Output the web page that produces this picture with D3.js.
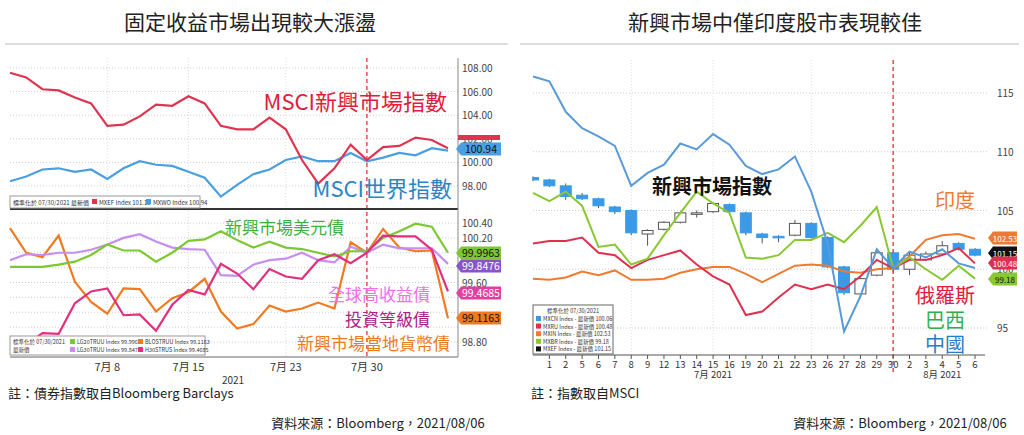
<!DOCTYPE html>
<html><head><meta charset="utf-8">
<script src="https://cdn.jsdelivr.net/npm/d3@7"></script>
<style>body{margin:0;background:#fff;font-family:"Noto Sans CJK TC","Noto Sans",sans-serif}</style>
</head><body>
<svg id="c" width="1024" height="435"></svg>
<script>
// left panel: trading days Jun 30 .. Aug 6
var leftDays = ["6/30","7/1","7/2","7/5","7/6","7/7","7/8","7/9","7/12","7/13","7/14","7/15","7/16","7/19","7/20","7/21","7/22","7/23","7/26","7/27","7/28","7/29","7/30","8/2","8/3","8/4","8/5","8/6"];
var mxef = [107.6,107.2,106.2,106.1,105.5,105.0,103.1,103.2,103.9,104.9,104.8,105.6,105.0,103.1,102.8,102.8,103.8,102.8,100.2,98.2,99.5,101.5,100.2,101.3,101.4,102.1,101.9,101.2];
var mxwo = [98.4,98.8,99.4,99.5,99.2,99.4,98.6,99.5,100.1,99.8,99.7,99.2,98.7,97.1,98.1,99.0,99.4,100.2,100.5,100.1,100.1,100.8,100.1,100.4,100.8,100.6,101.2,101.0];
var embUsd = [99.81,99.81,99.81,99.84,99.88,99.97,100.11,100.03,100.03,99.88,100.0,100.16,100.18,100.29,100.17,100.07,100.15,100.07,100.05,100.0,99.95,100.02,100.02,100.2,100.29,100.39,100.35,100.0];
var invGrade = [99.9,99.98,99.97,100.0,100.0,100.04,100.11,100.2,100.25,100.15,100.07,100.05,100.04,99.7,99.69,99.84,99.9,99.92,100.0,99.9,99.87,100.08,100.0,100.11,100.06,100.06,100.06,99.85];
var highYield = [98.7,98.76,98.92,98.91,99.32,99.48,99.52,99.16,99.17,98.95,99.3,99.5,99.44,99.85,99.72,99.51,99.78,99.68,99.65,99.9,99.98,99.86,100.0,100.23,100.22,100.22,100.04,99.48];
var emLocal = [100.33,100.0,99.94,100.23,99.61,99.34,99.18,99.52,99.51,99.21,99.39,99.47,99.65,99.21,98.98,99.04,99.29,99.21,99.25,99.33,99.25,100.14,100.0,100.32,100.07,100.02,100.03,99.12];
var topTicks = [98,100,102,104,106,108];
var botTicks = [98.8,99.0,99.2,99.4,99.6,99.8,100.0,100.2,100.4];
var botTickLabels = [98.8,99.6,100.2,100.4];
var leftDateTicks = [{d:"7/8",t:"7月 8"},{d:"7/15",t:"7月 15"},{d:"7/23",t:"7月 23"},{d:"7/30",t:"7月 30"}];

// right panel
var rightDays = ["6/30","7/1","7/2","7/5","7/6","7/7","7/8","7/9","7/12","7/13","7/14","7/15","7/16","7/19","7/20","7/21","7/22","7/23","7/26","7/27","7/28","7/29","7/30","8/2","8/3","8/4","8/5","8/6"];
var rightTickText = ["","1","2","5","6","7","8","9","12","13","14","15","16","19","20","21","22","23","26","27","28","29","30","2","3","4","5","6"];
var china = [116.4,116.0,113.4,112.0,111.3,110.5,107.1,108.2,108.9,110.7,110.2,111.5,110.6,108.8,108.1,108.5,109.6,106.6,102.2,94.7,97.7,101.7,100.1,101.5,101.0,101.7,100.5,100.1];
var brazil = [106.5,105.8,106.6,105.4,101.9,102.1,100.4,100.9,102.9,104.8,106.6,105.6,104.8,101.0,100.9,101.2,102.5,102.5,103.1,102.3,103.7,105.3,100.1,101.0,100.0,99.1,100.3,99.2];
var russia = [102.2,102.4,102.4,102.7,101.4,101.2,100.1,100.8,101.2,101.6,100.4,99.4,98.7,96.1,96.4,97.6,98.7,98.3,98.7,98.3,99.4,100.8,100.1,100.8,100.8,101.2,101.8,100.5];
var india = [99.2,99.1,99.3,99.8,99.5,99.9,99.1,99.1,99.2,99.7,100.0,100.2,100.2,99.6,98.9,99.6,100.3,100.4,100.3,99.8,99.7,100.0,100.1,101.1,102.5,102.9,103.0,102.6];
var emOpen  = [107.8,107.6,107.1,106.3,106.0,105.3,105.0,103.0,103.4,104.0,104.7,104.9,105.5,104.8,103.0,102.8,102.9,103.9,102.7,100.2,97.9,99.5,101.4,100.0,100.8,101.3,102.2,101.7];
var emClose = [107.6,107.1,106.2,106.0,105.4,104.9,103.1,103.3,104.0,104.8,104.8,105.6,104.9,103.1,102.7,102.7,103.9,102.7,100.2,98.0,99.2,101.4,100.0,101.2,101.3,102.0,101.7,101.2];
var emHigh  = [107.9,107.7,107.3,106.5,106.1,105.4,105.1,103.4,104.1,104.9,105.0,105.7,105.6,104.9,103.1,102.9,104.2,104.0,102.8,100.3,99.3,101.7,101.5,101.5,101.5,102.4,102.3,101.8];
var emLow   = [107.5,107.0,105.9,105.9,105.2,104.7,102.9,102.0,103.3,103.9,104.4,104.8,104.8,102.9,102.2,102.3,102.8,102.6,100.1,97.8,97.7,99.4,99.8,99.5,100.7,101.2,101.6,101.1];
var rightTicks = [95,100,105,110,115];

var svg = d3.select("#c");
var FONT = '"Noto Sans CJK TC","Noto Sans",sans-serif';

function txt(x, y, s, size, color, anchor, weight) {
  return svg.append("text").attr("x", x).attr("y", y).text(s)
    .attr("font-size", size).attr("fill", color).attr("font-family", FONT)
    .attr("text-anchor", anchor || "start").attr("font-weight", weight || "normal");
}
function badge(x, y, s, color, fg, w, fs) {
  w = w || 40; fs = fs || 10.5;
  svg.append("path").attr("d", "M" + x + "," + y + " l5,-6.5 h" + w + " v13 h-" + w + " z").attr("fill", color);
  txt(x + 5 + w / 2, y + 3.5, s, fs, fg || "#111", "middle");
}
function grid(x0, x1, ys) {
  ys.forEach(function (y) {
    svg.append("line").attr("x1", x0).attr("x2", x1).attr("y1", y).attr("y2", y)
      .attr("stroke", "#ccc").attr("stroke-dasharray", "1,2");
  });
}
function line(data, x, y, color, w) {
  svg.append("path").datum(data)
    .attr("d", d3.line().x(function (d, i) { return x(i); }).y(function (d) { return y(d); }))
    .attr("fill", "none").attr("stroke", color).attr("stroke-width", w || 2.2);
}

// ---------- titles ----------
txt(250, 30, "固定收益市場出現較大漲盪", 21, "#222", "middle");
txt(775, 30, "新興市場中僅印度股市表現較佳", 21, "#222", "middle");
svg.append("line").attr("x1", 5).attr("x2", 508).attr("y1", 44).attr("y2", 44).attr("stroke", "#bbb");
svg.append("line").attr("x1", 520).attr("x2", 1019).attr("y1", 44).attr("y2", 44).attr("stroke", "#bbb");

// ---------- left ----------
var xL = d3.scaleLinear().domain([0, leftDays.length - 1]).range([10, 448]);
var yT = d3.scaleLinear().domain([98, 108]).range([186, 68]);
var yB = d3.scaleLinear().domain([98.8, 100.4]).range([342, 223]);
grid(10, 458, topTicks.map(yT));
grid(10, 458, botTicks.map(yB));
leftDateTicks.forEach(function (t) {
  var xx = xL(leftDays.indexOf(t.d)), red = t.d == "7/30";
  svg.append("line").attr("x1", xx).attr("x2", xx).attr("y1", 58).attr("y2", 356)
    .attr("stroke", red ? "#d33" : "#ddd")
    .attr("stroke-dasharray", red ? "4,3" : "1,2").attr("stroke-width", red ? 1.3 : 1);
  txt(xx, 371, t.t, 11, "#333", "middle");
});
svg.append("line").attr("x1", 10).attr("x2", 458).attr("y1", 209).attr("y2", 209).attr("stroke", "#333").attr("stroke-width", 2);
svg.append("line").attr("x1", 10).attr("x2", 458).attr("y1", 357).attr("y2", 357).attr("stroke", "#666");
svg.append("line").attr("x1", 458).attr("x2", 458).attr("y1", 58).attr("y2", 357).attr("stroke", "#888");
txt(233, 384, "2021", 10, "#333", "middle");
topTicks.forEach(function (v) { txt(462, yT(v) + 4, v.toFixed(2), 10, "#444"); });
botTickLabels.forEach(function (v) { txt(462, yB(v) + 4, v.toFixed(2), 10, "#444"); });

line(mxwo, xL, yT, "#4a9fe0");
line(mxef, xL, yT, "#e0334f");
line(emLocal, xL, yB, "#f07a20");
line(invGrade, xL, yB, "#c58ef0");
line(embUsd, xL, yB, "#7cc830");
line(highYield, xL, yB, "#e0307e");

svg.append("rect").attr("x", 458).attr("y", 135).attr("width", 42).attr("height", 5).attr("fill", "#e0334f");
badge(456, 149, "100.94", "#4a9fe0");
badge(456, 253, "99.9963", "#7cc830");
badge(456, 266, "99.8476", "#8855c8", "#fff");
badge(456, 293, "99.4685", "#e040a0", "#fff");
badge(456, 318, "99.1163", "#f07a20");

// legends
svg.append("rect").attr("x", 10).attr("y", 196).attr("width", 190).attr("height", 12).attr("fill", "#fff").attr("stroke", "#999");
txt(13, 205, "標準化於 07/30/2021 最新價", 6, "#333");
[["MXEF Index 101.15", "#e0334f", 92], ["MXWO Index 100.94", "#4a9fe0", 146]].forEach(function (l) {
  svg.append("rect").attr("x", l[2]).attr("y", 199).attr("width", 5).attr("height", 5).attr("fill", l[1]);
  txt(l[2] + 7, 205, l[0], 6, "#333");
});
svg.append("rect").attr("x", 10).attr("y", 336).attr("width", 195).attr("height", 19).attr("fill", "#fff").attr("stroke", "#999");
txt(13, 344, "標準化於 07/30/2021", 5.5, "#333");
txt(13, 352, "最新價", 5.5, "#333");
[["LG20TRUU Index 99.9963", "#7cc830", 70, 344], ["BLOSTRUU Index 99.1163", "#f07a20", 138, 344],
 ["LG30TRUU Index 99.8476", "#c58ef0", 70, 352], ["H30STRUS Index 99.4685", "#e0307e", 138, 352]].forEach(function (l) {
  svg.append("rect").attr("x", l[2]).attr("y", l[3] - 5).attr("width", 5).attr("height", 5).attr("fill", l[1]);
  txt(l[2] + 7, l[3], l[0], 5.5, "#333");
});

txt(447, 110, "MSCI新興市場指數", 22, "#e0203a", "end");
txt(452, 197, "MSCI世界指數", 22, "#2a85c8", "end");
txt(225, 234, "新興市場美元債", 17, "#3cb040");
txt(430, 301, "全球高收益債", 17, "#f070e8", "end");
txt(430, 326, "投資等級債", 17, "#b0208a", "end");
txt(450, 350, "新興市場當地貨幣債", 17, "#f07a20", "end");
txt(8, 398, "註：債券指數取自Bloomberg Barclays", 13, "#222");
txt(378, 428, "資料來源：Bloomberg，2021/08/06", 13, "#222", "middle");

// ---------- right ----------
var xR = d3.scaleLinear().domain([0, rightDays.length - 1]).range([533, 975]);
var yR = d3.scaleLinear().domain([95, 115]).range([328, 93]);
grid(533, 988, rightTicks.map(yR));
rightTicks.forEach(function (v) { txt(997, yR(v) + 4, v, 10, "#444"); });
[6, 11, 17].forEach(function (i) {
  svg.append("line").attr("x1", xR(i)).attr("x2", xR(i)).attr("y1", 60).attr("y2", 355).attr("stroke", "#ddd").attr("stroke-dasharray", "1,2");
});
var i30 = rightDays.indexOf("7/30");
svg.append("line").attr("x1", xR(i30)).attr("x2", xR(i30)).attr("y1", 60).attr("y2", 375)
  .attr("stroke", "#d33").attr("stroke-dasharray", "4,3").attr("stroke-width", 1.3);
svg.append("line").attr("x1", 533).attr("x2", 985).attr("y1", 355).attr("y2", 355).attr("stroke", "#555");
rightTickText.forEach(function (s, i) {
  if (!s) return;
  svg.append("line").attr("x1", xR(i)).attr("x2", xR(i)).attr("y1", 355).attr("y2", 359).attr("stroke", "#555");
  txt(xR(i), 368, s, 9.5, "#333", "middle");
});
txt(xR(11), 378, "7月 2021", 9.5, "#333", "middle");
txt(xR(25), 378, "8月 2021", 9.5, "#333", "middle");

// candles
var cw = 11;
emOpen.forEach(function (o, i) {
  var c = emClose[i], up = c >= o, xx = xR(i);
  svg.append("line").attr("x1", xx).attr("x2", xx).attr("y1", yR(emHigh[i])).attr("y2", yR(emLow[i])).attr("stroke", "#555");
  svg.append("rect").attr("x", i == 0 ? xx : xx - cw / 2).attr("width", i == 0 ? cw / 2 : cw)
    .attr("y", yR(Math.max(o, c))).attr("height", Math.max(1.5, Math.abs(yR(o) - yR(c))))
    .attr("fill", up ? "#fff" : "#3a9ae8").attr("stroke", up ? "#555" : "#3a9ae8");
});
line(india, xR, yR, "#f07a30", 2);
line(russia, xR, yR, "#e0304f", 2);
line(brazil, xR, yR, "#88c830", 2);
line(china, xR, yR, "#5a9ad8", 2);

badge(988, 238, "102.53", "#f07a30", "#fff", 24, 8);
badge(988, 253, "101.15", "#111", "#fff", 24, 8);
badge(988, 263, "100.48", "#e0304f", "#fff", 24, 8);
badge(988, 279, "99.18", "#88c830", "#111", 24, 8);

svg.append("rect").attr("x", 533).attr("y", 305).attr("width", 80).attr("height", 49).attr("fill", "#fff").attr("stroke", "#666");
txt(573, 313, "標準化於 07/30/2021", 5.5, "#333", "middle");
[["MXCN Index - 最新價 100.06", "#3a9ae8"], ["MXRU Index - 最新價 100.48", "#e0304f"], ["MXIN Index - 最新價 102.53", "#f07a30"],
 ["MXBR Index - 最新價 99.18", "#88c830"], ["MXEF Index - 最新價 101.15", "#111"]].forEach(function (l, i) {
  svg.append("rect").attr("x", 536).attr("y", 316 + i * 7.6).attr("width", 5).attr("height", 5).attr("fill", l[1]);
  txt(543, 321 + i * 7.6, l[0], 5.5, "#333");
});

txt(712, 194, "新興市場指數", 20, "#111", "middle", "bold");
txt(975, 208, "印度", 20, "#f07a30", "end");
txt(975, 303, "俄羅斯", 20, "#e0203a", "end");
txt(965, 328, "巴西", 20, "#2bb050", "end");
txt(965, 352, "中國", 20, "#2a7ac8", "end");
txt(531, 398, "註：指數取自MSCI", 13, "#222");
txt(900, 428, "資料來源：Bloomberg，2021/08/06", 13, "#222", "middle");
</script>
</body></html>
